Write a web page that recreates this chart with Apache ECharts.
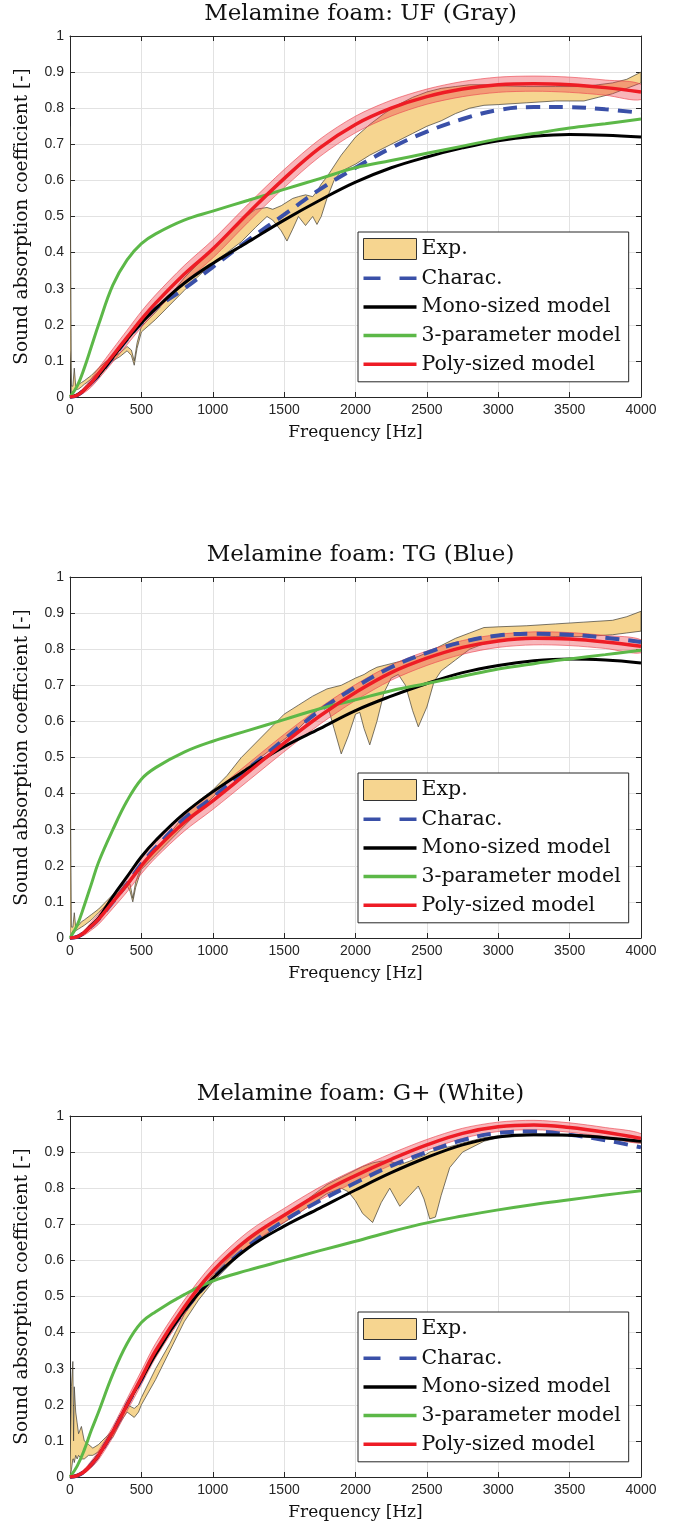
<!DOCTYPE html>
<html>
<head>
<meta charset="utf-8">
<script src="https://cdn.jsdelivr.net/npm/echarts@6/dist/echarts.min.js"></script>
<style>
  html, body { margin: 0; padding: 0; background: #fff; }
  #main { width: 683px; height: 1528px; }
</style>
</head>
<body>
<div id="main"></div>
<script>
// frequency grid of the model curves [Hz]
const freqModel = [0,50,100,150,200,300,400,500,600,800,1000,1250,1500,1750,2000,2250,2500,2750,3000,3250,3500,3750,4000];

// ---- UF (Gray)
const freqExp1 = [0,10,20,30,40,60,80,100,150,200,250,300,350,400,430,450,470,500,600,700,800,900,1000,1100,1200,1300,1380,1420,1480,1520,1560,1600,1650,1700,1730,1760,1800,1850,1900,2000,2100,2200,2300,2400,2500,2600,2700,2800,2900,3000,3200,3400,3600,3700,3800,3900,4000];
const expLow1 = [0.13,0.01,0.015,0.02,0.02,0.022,0.028,0.035,0.05,0.07,0.088,0.1,0.112,0.128,0.115,0.088,0.135,0.18,0.215,0.255,0.295,0.335,0.37,0.4,0.43,0.47,0.5,0.49,0.46,0.432,0.465,0.5,0.475,0.5,0.478,0.5,0.55,0.6,0.625,0.645,0.67,0.69,0.71,0.73,0.75,0.765,0.785,0.8,0.808,0.81,0.815,0.82,0.82,0.83,0.84,0.855,0.87];
const expHigh1 = [0.75,0.03,0.03,0.08,0.03,0.035,0.04,0.045,0.06,0.08,0.098,0.11,0.122,0.14,0.13,0.1,0.15,0.195,0.235,0.28,0.33,0.37,0.41,0.45,0.49,0.52,0.525,0.52,0.53,0.54,0.55,0.555,0.56,0.555,0.57,0.59,0.61,0.64,0.67,0.72,0.755,0.785,0.81,0.83,0.845,0.855,0.86,0.865,0.865,0.862,0.86,0.86,0.86,0.865,0.87,0.88,0.9];
const charac1 = [0,0.005,0.02,0.04,0.06,0.11,0.16,0.205,0.245,0.30,0.36,0.435,0.505,0.575,0.635,0.69,0.735,0.77,0.795,0.803,0.803,0.797,0.787];
const mono1 = [0,0.005,0.02,0.04,0.06,0.11,0.16,0.205,0.245,0.315,0.37,0.43,0.49,0.545,0.595,0.635,0.665,0.69,0.71,0.722,0.727,0.725,0.72];
const threeParam1 = [0,0.03,0.08,0.14,0.2,0.31,0.38,0.425,0.452,0.49,0.515,0.545,0.575,0.605,0.635,0.655,0.675,0.695,0.715,0.73,0.745,0.757,0.77];
const poly1 = [0,0.005,0.02,0.04,0.065,0.115,0.165,0.215,0.26,0.34,0.41,0.51,0.605,0.69,0.755,0.80,0.832,0.853,0.865,0.868,0.865,0.857,0.845];
const polyLo1 = [0,0.002,0.012,0.028,0.05,0.097,0.145,0.193,0.237,0.316,0.385,0.485,0.58,0.666,0.732,0.778,0.811,0.832,0.844,0.847,0.844,0.836,0.824];
const polyHi1 = [0,0.008,0.028,0.052,0.08,0.133,0.185,0.237,0.283,0.364,0.435,0.535,0.63,0.714,0.778,0.822,0.853,0.874,0.886,0.889,0.886,0.878,0.866];

// ---- TG (Blue)
const freqExp2 = [0,10,20,30,40,60,80,100,150,200,250,300,350,400,420,440,460,500,600,700,800,900,1000,1100,1200,1300,1400,1500,1600,1700,1800,1850,1900,1950,2000,2030,2060,2100,2150,2200,2250,2300,2350,2400,2440,2500,2550,2600,2700,2800,2900,3000,3200,3400,3600,3800,3900,4000];
const expLow2 = [0,0.01,0.02,0.02,0.02,0.025,0.03,0.035,0.05,0.07,0.09,0.11,0.13,0.145,0.13,0.1,0.14,0.19,0.23,0.27,0.31,0.35,0.39,0.43,0.46,0.49,0.52,0.55,0.58,0.62,0.65,0.58,0.51,0.56,0.62,0.625,0.58,0.535,0.6,0.68,0.72,0.73,0.7,0.63,0.585,0.64,0.71,0.74,0.77,0.8,0.815,0.825,0.83,0.835,0.835,0.84,0.845,0.85];
const expHigh2 = [0.56,0.03,0.03,0.07,0.03,0.035,0.045,0.05,0.065,0.08,0.1,0.12,0.14,0.155,0.15,0.11,0.155,0.2,0.245,0.29,0.34,0.38,0.41,0.45,0.5,0.54,0.58,0.62,0.645,0.67,0.69,0.695,0.7,0.71,0.72,0.725,0.73,0.74,0.75,0.755,0.76,0.765,0.77,0.775,0.78,0.79,0.8,0.81,0.83,0.845,0.86,0.862,0.865,0.87,0.875,0.88,0.89,0.905];
const charac2 = [0,0.003,0.015,0.033,0.052,0.1,0.15,0.205,0.25,0.33,0.39,0.47,0.55,0.63,0.695,0.75,0.79,0.82,0.838,0.843,0.84,0.832,0.82];
const mono2 = [0,0.003,0.015,0.035,0.055,0.115,0.17,0.225,0.27,0.345,0.405,0.47,0.53,0.58,0.63,0.67,0.705,0.735,0.755,0.768,0.773,0.77,0.762];
const threeParam2 = [0,0.035,0.09,0.15,0.21,0.30,0.38,0.44,0.472,0.515,0.545,0.575,0.605,0.635,0.66,0.685,0.705,0.725,0.745,0.76,0.773,0.785,0.797];
const poly2 = [0,0.003,0.015,0.033,0.052,0.1,0.148,0.2,0.245,0.32,0.38,0.46,0.54,0.615,0.68,0.735,0.775,0.805,0.823,0.83,0.828,0.82,0.808];
const polyLo2 = [0,0.001,0.008,0.022,0.038,0.082,0.128,0.178,0.222,0.296,0.356,0.436,0.516,0.592,0.658,0.714,0.755,0.786,0.805,0.812,0.81,0.802,0.79];
const polyHi2 = [0,0.006,0.022,0.044,0.066,0.118,0.168,0.222,0.268,0.344,0.404,0.484,0.564,0.638,0.702,0.756,0.795,0.824,0.841,0.848,0.846,0.838,0.826];

// ---- G+ (White)
const freqExp3 = [0,10,20,25,30,40,50,60,80,100,130,160,200,250,300,350,400,450,480,500,600,700,800,900,1000,1200,1400,1600,1800,1900,1950,2000,2050,2120,2180,2240,2310,2380,2440,2480,2520,2560,2600,2660,2750,2900,3000,3200,3500,3800,4000];
const expLow3 = [0,0.02,0.05,0.05,0.04,0.06,0.05,0.06,0.05,0.05,0.06,0.06,0.07,0.09,0.11,0.15,0.18,0.165,0.18,0.2,0.27,0.35,0.43,0.49,0.54,0.62,0.68,0.73,0.785,0.8,0.79,0.765,0.73,0.705,0.76,0.8,0.75,0.78,0.806,0.77,0.715,0.72,0.78,0.857,0.9,0.93,0.94,0.945,0.945,0.935,0.925];
const expHigh3 = [0.02,0.25,0.32,0.1,0.25,0.18,0.15,0.12,0.14,0.1,0.09,0.08,0.09,0.11,0.13,0.17,0.2,0.19,0.2,0.22,0.3,0.37,0.45,0.51,0.56,0.64,0.7,0.75,0.81,0.83,0.84,0.85,0.86,0.87,0.875,0.875,0.865,0.875,0.885,0.89,0.9,0.905,0.91,0.915,0.925,0.94,0.945,0.948,0.948,0.94,0.93];
const charac3 = [0,0.004,0.015,0.035,0.06,0.125,0.2,0.27,0.345,0.46,0.55,0.64,0.71,0.765,0.815,0.862,0.9,0.933,0.953,0.957,0.948,0.933,0.913];
const mono3 = [0,0.004,0.015,0.035,0.06,0.125,0.2,0.27,0.34,0.46,0.55,0.635,0.695,0.745,0.795,0.843,0.885,0.92,0.942,0.948,0.947,0.94,0.93];
const threeParam3 = [0,0.03,0.075,0.13,0.18,0.285,0.37,0.428,0.458,0.505,0.543,0.573,0.6,0.627,0.653,0.68,0.704,0.723,0.74,0.755,0.768,0.781,0.793];
const poly3 = [0,0.004,0.015,0.035,0.06,0.125,0.2,0.275,0.35,0.47,0.57,0.66,0.725,0.785,0.835,0.88,0.92,0.952,0.97,0.975,0.968,0.955,0.938];
const polyLo3 = [0,0.002,0.01,0.026,0.048,0.11,0.183,0.256,0.33,0.45,0.55,0.64,0.706,0.767,0.818,0.864,0.905,0.938,0.957,0.962,0.955,0.942,0.925];
const polyHi3 = [0,0.007,0.022,0.045,0.073,0.14,0.217,0.294,0.37,0.49,0.59,0.68,0.744,0.803,0.852,0.896,0.935,0.966,0.983,0.988,0.981,0.968,0.951];

const titles = ['Melamine foam: UF (Gray)', 'Melamine foam: TG (Blue)', 'Melamine foam: G+ (White)'];
const legendNames = ['Exp.', 'Charac.', 'Mono-sized model', '3-parameter model', 'Poly-sized model'];

const panels = [
  { top: 36,   fe: freqExp1, lo: expLow1, hi: expHigh1, ch: charac1, mo: mono1, tp: threeParam1, po: poly1, pl: polyLo1, ph: polyHi1 },
  { top: 577,  fe: freqExp2, lo: expLow2, hi: expHigh2, ch: charac2, mo: mono2, tp: threeParam2, po: poly2, pl: polyLo2, ph: polyHi2 },
  { top: 1116, fe: freqExp3, lo: expLow3, hi: expHigh3, ch: charac3, mo: mono3, tp: threeParam3, po: poly3, pl: polyLo3, ph: polyHi3 }
];

const serif = 'DejaVu Serif';
const axisColor = '#262626';
const pairs = (xs, ys) => xs.map((x, k) => [x, ys[k]]);

// filled band between two curves, drawn as one polygon through the axes
function band(i, name, xs, lo, hi, style, smooth, z) {
  return {
    type: 'custom', name: name, xAxisIndex: 2 * i, yAxisIndex: 2 * i, silent: true, clip: true, z: z,
    data: xs.map((x, k) => [x, lo[k], hi[k]]),
    encode: { x: 0, y: [1, 2] },
    renderItem: function (params, api) {
      if (params.dataIndex !== 0) return null;
      const n = params.dataInsideLength;
      const upper = [], lower = [];
      for (let k = 0; k < n; k++) {
        upper.push(api.coord([api.value(0, k), api.value(2, k)]));
        lower.push(api.coord([api.value(0, k), api.value(1, k)]));
      }
      return { type: 'polygon', shape: { points: upper.concat(lower.reverse()), smooth: smooth }, style: style };
    }
  };
}

const option = { animation: false, title: [], grid: [], xAxis: [], yAxis: [], legend: [], series: [] };

panels.forEach((p, i) => {
  option.title.push({
    text: titles[i], left: 355.5, top: p.top - 38, textAlign: 'center',
    textStyle: { fontFamily: serif, fontSize: 23, fontWeight: 'normal', color: '#111' }
  });
  option.grid.push({ left: 70, top: p.top, width: 571, height: 361 });

  const tick = { show: true, inside: true, length: 5, lineStyle: { color: axisColor, width: 1 } };
  const line = { show: true, onZero: false, lineStyle: { color: axisColor, width: 1 } };
  option.xAxis.push({
    gridIndex: i, type: 'value', min: 0, max: 4000, interval: 500, position: 'bottom',
    name: 'Frequency [Hz]', nameLocation: 'middle', nameGap: 27,
    nameTextStyle: { fontFamily: serif, fontSize: 17, color: '#111' },
    axisLine: line, axisTick: tick,
    axisLabel: { fontFamily: 'Liberation Sans', fontSize: 14, color: axisColor, margin: 6, formatter: v => String(v) },
    splitLine: { show: true, lineStyle: { color: '#e2e2e2', width: 1 } }
  });
  option.xAxis.push({
    gridIndex: i, type: 'value', min: 0, max: 4000, interval: 500, position: 'top',
    axisLine: line, axisTick: tick, axisLabel: { show: false }, splitLine: { show: false }
  });
  option.yAxis.push({
    gridIndex: i, type: 'value', min: 0, max: 1, interval: 0.1, position: 'left',
    name: 'Sound absorption coefficient [-]', nameLocation: 'middle', nameGap: 38,
    nameTextStyle: { fontFamily: serif, fontSize: 18.5, color: '#111' },
    axisLine: line, axisTick: tick,
    axisLabel: { fontFamily: 'Liberation Sans', fontSize: 14, color: axisColor, margin: 6 },
    splitLine: { show: true, lineStyle: { color: '#e2e2e2', width: 1 } }
  });
  option.yAxis.push({
    gridIndex: i, type: 'value', min: 0, max: 1, interval: 0.1, position: 'right',
    axisLine: line, axisTick: tick, axisLabel: { show: false }, splitLine: { show: false }
  });

  option.legend.push({
    orient: 'vertical', left: 358, top: p.top + 196, selectedMode: false,
    padding: [6, 8, 7, 5], itemGap: 7.7, itemWidth: 53, itemHeight: 21,
    borderColor: axisColor, borderWidth: 1, backgroundColor: '#fff',
    textStyle: { fontFamily: serif, fontSize: 20.5, color: '#111' },
    data: [
      { name: legendNames[0], icon: 'rect', itemStyle: { color: '#f6d590', borderColor: '#333', borderWidth: 1 } },
      { name: legendNames[1], icon: 'path://M0,0H17V3.5H0Z M36,0H53V3.5H36Z', itemStyle: { color: '#3a50a8', borderWidth: 0 } },
      { name: legendNames[2], icon: 'path://M0,0H53V3.5H0Z', itemStyle: { color: '#000', borderWidth: 0 } },
      { name: legendNames[3], icon: 'path://M0,0H53V3.5H0Z', itemStyle: { color: '#5cb848', borderWidth: 0 } },
      { name: legendNames[4], icon: 'path://M0,0H53V3.5H0Z', itemStyle: { color: '#ee1c25', borderWidth: 0 } }
    ]
  });

  const ax = { xAxisIndex: 2 * i, yAxisIndex: 2 * i, type: 'line', symbol: 'none', silent: true, smooth: 0.4, z: 3 };

  option.series.push(
    band(i, legendNames[0], p.fe, p.lo, p.hi, { fill: '#f6d590', stroke: '#3f3c33', lineWidth: 0.7 }, 0, 2),
    Object.assign({}, ax, { name: legendNames[1], data: pairs(freqModel, p.ch),
      lineStyle: { color: '#3a50a8', width: 4, type: [14, 9] }, itemStyle: { color: '#3a50a8' } }),
    Object.assign({}, ax, { name: legendNames[2], data: pairs(freqModel, p.mo),
      lineStyle: { color: '#000', width: 3 }, itemStyle: { color: '#000' } }),
    Object.assign({}, ax, { name: legendNames[3], data: pairs(freqModel, p.tp),
      lineStyle: { color: '#5cb848', width: 3 }, itemStyle: { color: '#5cb848' } }),
    band(i, 'poly-band-' + i, freqModel, p.pl, p.ph, { fill: 'rgba(236,64,74,0.38)', stroke: 'rgba(236,70,80,0.8)', lineWidth: 0.8 }, 0.3, 3),
    Object.assign({}, ax, { name: legendNames[4], data: pairs(freqModel, p.po),
      lineStyle: { color: '#ee1c25', width: 3.5 }, itemStyle: { color: '#ee1c25' } })
  );
});

const chart = echarts.init(document.getElementById('main'), null, { renderer: 'canvas' });
chart.setOption(option);
</script>
</body>
</html>
